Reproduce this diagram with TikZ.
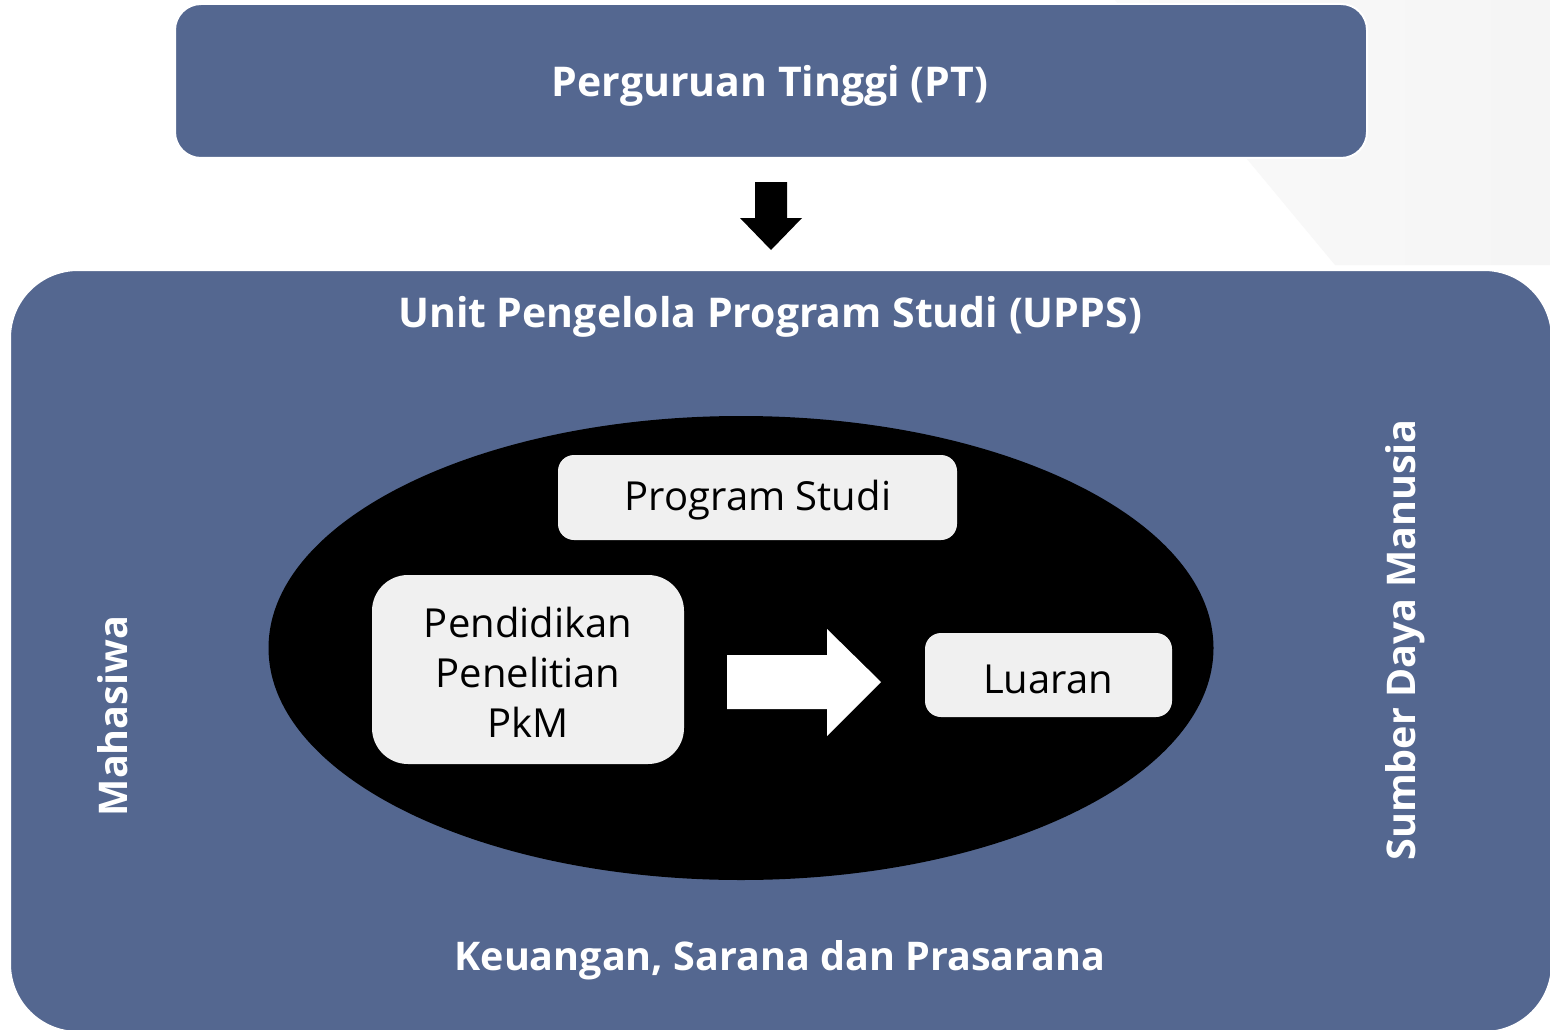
\documentclass[tikz,border=0pt]{standalone}
\usepackage{fontspec}
\setmainfont{Open Sans}
\usetikzlibrary{shapes.geometric}
\definecolor{slate}{RGB}{84,103,144}
\definecolor{boxgray}{RGB}{240,240,240}
\tikzset{
  panel/.style={fill=slate, draw=white, line width=2pt},
  inbox/.style={fill=boxgray, draw=none, rounded corners=16pt},
  heading/.style={text=white, font=\fontsize{41}{46}\selectfont\bfseries, inner sep=0pt},
  sideheading/.style={heading, font=\fontsize{39.5}{46}\selectfont\bfseries},
  plain/.style={text=black, font=\fontsize{40}{50}\selectfont, align=center, inner sep=0pt},
}
\begin{document}
\begin{tikzpicture}[x=1pt,y=-1pt]
\useasboundingbox (0,0) rectangle (1550,1030);
\fill[white] (0,0) rectangle (1550,1030);
% soft backdrop wedge at the upper right
\shade[left color=gray!4, right color=gray!8] (1115,0) -- (1335,265) -- (1550,265) -- (1550,0) -- cycle;

% top panel
\draw[panel, rounded corners=26pt] (175,4) rectangle (1367,158);
\node[heading] (pt) at (770,86) {Perguruan Tinggi (PT)};

% block arrow downwards
\fill[black] (755,182) -- (787,182) -- (787,218) -- (802,218) -- (771,250) -- (740,218) -- (755,218) -- cycle;

% main panel
\draw[panel, rounded corners=68pt] (10,270) rectangle (1552,1032);
\node[heading] (upps) at (770,317) {Unit Pengelola Program Studi (UPPS)};
\node[sideheading] (keu) at (780,960) {Keuangan, Sarana dan Prasarana};
\node[sideheading, rotate=90] (mhs) at (113,716) {Mahasiwa};
\node[sideheading, rotate=90] (sdm) at (1405,640) {Sumber Daya Manusia};

% central ellipse
\node[ellipse, fill=black, minimum width=945pt, minimum height=464pt, inner sep=0pt] (core) at (741,648) {};

% inner boxes
\draw[inbox] (558,455) rectangle (957,540);
\node[plain] (ps) at (758,500) {Program Studi};
\draw[inbox, rounded corners=36pt] (372,575) rectangle (684,764);
\node[plain] (tri) at (528,672) {Pendidikan\\Penelitian\\PkM};
\draw[inbox] (925,633) rectangle (1172,717);
\node[plain] (lu) at (1048,679) {Luaran};

% white block arrow
\fill[white] (727,655) -- (827,655) -- (827,629) -- (881,682) -- (827,736) -- (827,709) -- (727,709) -- cycle;
\end{tikzpicture}
\end{document}
